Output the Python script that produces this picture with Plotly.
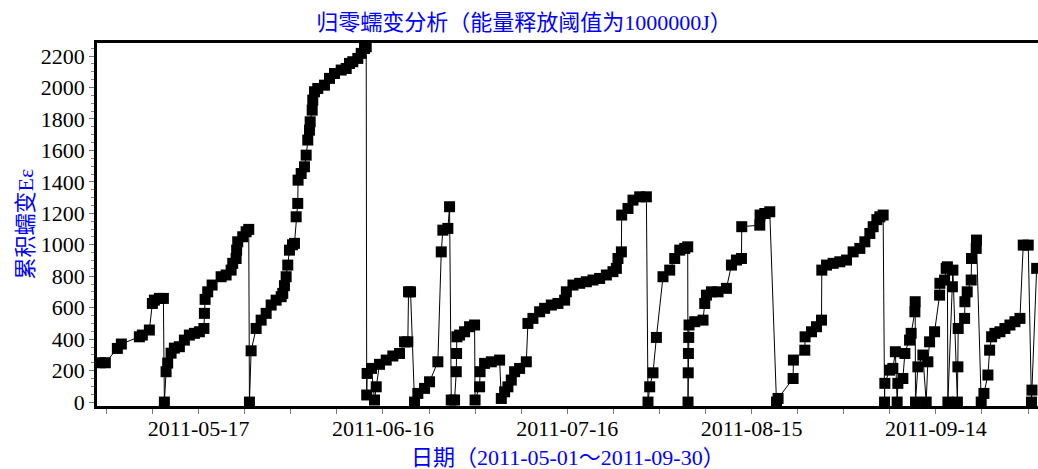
import plotly.graph_objects as go

# Observation timestamps
dates = [
    "2011-05-01 00:00", "2011-05-01 19:12", "2011-05-03 18:10", "2011-05-04 09:49", "2011-05-07 08:11",
    "2011-05-07 19:54", "2011-05-08 23:17", "2011-05-09 11:00", "2011-05-09 18:49", "2011-05-10 14:21",
    "2011-05-11 06:00", "2011-05-11 09:55", "2011-05-11 16:34", "2011-05-11 22:48", "2011-05-12 12:06",
    "2011-05-13 01:00", "2011-05-13 20:32", "2011-05-14 16:06", "2011-05-15 11:38", "2011-05-16 07:12",
    "2011-05-17 02:44", "2011-05-17 20:20", "2011-05-17 22:16", "2011-05-18 01:00", "2011-05-18 11:11",
    "2011-05-19 04:23", "2011-05-20 15:34", "2011-05-21 11:07", "2011-05-22 06:40", "2011-05-22 12:55",
    "2011-05-23 02:12", "2011-05-23 04:10", "2011-05-23 08:28", "2011-05-24 04:00", "2011-05-24 17:18",
    "2011-05-25 03:29", "2011-05-25 06:13", "2011-05-25 12:50", "2011-05-26 08:24", "2011-05-27 03:56",
    "2011-05-27 23:30", "2011-05-28 19:02", "2011-05-29 14:35", "2011-05-30 10:08", "2011-05-30 16:23",
    "2011-05-30 23:02", "2011-05-31 05:41", "2011-05-31 11:56", "2011-05-31 18:35", "2011-06-01 06:19",
    "2011-06-01 14:08", "2011-06-01 20:46", "2011-06-02 03:01", "2011-06-02 04:12", "2011-06-02 16:19",
    "2011-06-03 05:13", "2011-06-03 11:51", "2011-06-03 18:07", "2011-06-04 00:46", "2011-06-04 03:30",
    "2011-06-04 11:20", "2011-06-04 13:39", "2011-06-04 20:18", "2011-06-05 09:13", "2011-06-06 11:24",
    "2011-06-07 06:58", "2011-06-08 02:30", "2011-06-09 04:42", "2011-06-10 00:14", "2011-06-10 13:09",
    "2011-06-11 02:02", "2011-06-11 21:36", "2011-06-12 10:52", "2011-06-12 23:47", "2011-06-13 06:26",
    "2011-06-13 08:23", "2011-06-13 09:56", "2011-06-14 03:09", "2011-06-14 14:53", "2011-06-14 21:32",
    "2011-06-15 10:25", "2011-06-16 12:37", "2011-06-17 14:25", "2011-06-18 16:36", "2011-06-19 12:09",
    "2011-06-20 01:03", "2011-06-20 03:48", "2011-06-20 11:37", "2011-06-21 03:14", "2011-06-21 16:09",
    "2011-06-22 18:20", "2011-06-23 13:54", "2011-06-24 22:21", "2011-06-25 11:38", "2011-06-25 17:53",
    "2011-06-26 13:26", "2011-06-26 20:05", "2011-06-27 02:43", "2011-06-27 15:37", "2011-06-27 22:16",
    "2011-06-27 23:27", "2011-06-28 00:37", "2011-06-28 11:10", "2011-06-29 06:43", "2011-06-30 02:15",
    "2011-06-30 21:49", "2011-06-30 23:46", "2011-07-01 17:21", "2011-07-01 19:19", "2011-07-02 12:55",
    "2011-07-03 15:07", "2011-07-04 23:33", "2011-07-05 06:12", "2011-07-05 19:06", "2011-07-06 08:00",
    "2011-07-06 21:17", "2011-07-07 10:11", "2011-07-08 05:44", "2011-07-09 07:55", "2011-07-09 14:11",
    "2011-07-10 09:43", "2011-07-11 11:55", "2011-07-12 07:28", "2011-07-13 09:40", "2011-07-14 11:28",
    "2011-07-15 13:39", "2011-07-15 20:18", "2011-07-16 22:06", "2011-07-18 00:17", "2011-07-19 02:30",
    "2011-07-20 04:18", "2011-07-21 06:29", "2011-07-22 08:41", "2011-07-23 10:28", "2011-07-23 23:46",
    "2011-07-24 06:01", "2011-07-24 19:19", "2011-07-24 20:30", "2011-07-25 21:07", "2011-07-26 16:39",
    "2011-07-27 18:52", "2011-07-28 21:03", "2011-07-29 03:19", "2011-07-29 09:58", "2011-07-29 22:51",
    "2011-07-30 12:09", "2011-07-31 13:57", "2011-08-01 16:09", "2011-08-02 11:41", "2011-08-03 07:15",
    "2011-08-04 02:47", "2011-08-04 14:31", "2011-08-04 15:42", "2011-08-04 16:29", "2011-08-04 17:15",
    "2011-08-04 18:26", "2011-08-04 19:36", "2011-08-05 17:53", "2011-08-07 02:20", "2011-08-07 08:59",
    "2011-08-07 15:36", "2011-08-08 11:10", "2011-08-09 12:58", "2011-08-10 21:48", "2011-08-11 17:21",
    "2011-08-12 12:53", "2011-08-13 08:27", "2011-08-13 09:37", "2011-08-16 08:00", "2011-08-16 09:10",
    "2011-08-17 03:32", "2011-08-17 23:04", "2011-08-19 01:16", "2011-08-19 07:32", "2011-08-21 18:10",
    "2011-08-21 19:21", "2011-08-23 15:55", "2011-08-23 17:05", "2011-08-24 18:06", "2011-08-25 13:38",
    "2011-08-26 09:12", "2011-08-26 10:22", "2011-08-27 04:44", "2011-08-28 06:32", "2011-08-29 08:44",
    "2011-08-30 10:55", "2011-08-31 12:43", "2011-09-01 14:56", "2011-09-02 10:29", "2011-09-03 06:01",
    "2011-09-03 18:56", "2011-09-04 09:24", "2011-09-04 21:07", "2011-09-05 10:02", "2011-09-05 15:30",
    "2011-09-05 16:41", "2011-09-06 11:02", "2011-09-06 23:57", "2011-09-07 09:43", "2011-09-07 16:45",
    "2011-09-07 19:29", "2011-09-08 15:03", "2011-09-08 22:52", "2011-09-09 17:14", "2011-09-09 23:30",
    "2011-09-10 13:57", "2011-09-10 15:07", "2011-09-10 16:18", "2011-09-11 01:41", "2011-09-11 21:13",
    "2011-09-12 10:08", "2011-09-12 16:47", "2011-09-12 23:25", "2011-09-13 18:58", "2011-09-14 14:31",
    "2011-09-14 15:42", "2011-09-15 10:03", "2011-09-15 16:19", "2011-09-15 21:00", "2011-09-15 22:58",
    "2011-09-16 16:34", "2011-09-16 18:30", "2011-09-17 12:06", "2011-09-17 14:04", "2011-09-17 15:14",
    "2011-09-18 16:15", "2011-09-18 17:25", "2011-09-19 02:24", "2011-09-19 18:03", "2011-09-19 19:13",
    "2011-09-20 13:36", "2011-09-20 14:46", "2011-09-21 09:09", "2011-09-21 19:42", "2011-09-22 11:21",
    "2011-09-22 18:00", "2011-09-23 01:48", "2011-09-23 14:43", "2011-09-24 10:15", "2011-09-25 05:48",
    "2011-09-26 01:21", "2011-09-26 20:54", "2011-09-27 16:26", "2011-09-28 05:21", "2011-09-29 00:53",
    "2011-09-29 13:25", "2011-09-29 15:22", "2011-09-30 09:45",
]

# Cumulative creep Eε after zero-resetting
creep = [
    250, 250, 341, 369, 415,
    426, 458, 627, 648, 659,
    659, 0, 193, 248, 311,
    343, 352, 394, 426, 437,
    447, 468, 564, 653, 701,
    744, 797, 808, 839, 882,
    913, 966, 1019, 1051, 1083,
    1098, 0, 326, 468, 521,
    564, 617, 648, 670, 691,
    740, 797, 871, 966, 1000,
    1009, 1178, 1263, 1411, 1453,
    1496, 1570, 1666, 1729, 1782,
    1856, 1920, 1973, 1994, 2015,
    2058, 2089, 2111, 2121, 2153,
    2164, 2185, 2217, 2248, 2259,
    45, 182, 214, 13, 97,
    240, 267, 293, 309, 383,
    383, 701, 701, 0, 55,
    87, 129, 256, 955, 1093,
    1104, 1242, 13, 13, 193,
    309, 415, 426, 447, 479,
    490, 13, 97, 193, 246,
    256, 267, 23, 65, 97,
    140, 193, 214, 256, 500,
    532, 574, 596, 617, 627,
    648, 701, 744, 755, 765,
    776, 786, 808, 829, 850,
    913, 955, 1189, 1231, 1284,
    1305, 1305, 0, 97, 186,
    411, 797, 839, 913, 966,
    977, 987, 0, 186, 309,
    411, 490, 511, 521, 627,
    680, 701, 701, 723, 871,
    903, 913, 1115, 1125, 1189,
    1199, 1210, 0, 23, 150,
    267, 330, 415, 447, 479,
    521, 839, 871, 882, 892,
    903, 955, 977, 1019, 1072,
    1115, 1160, 1178, 1189, 0,
    119, 203, 214, 320, 0,
    119, 150, 309, 394, 437,
    574, 638, 0, 224, 299,
    0, 256, 383, 447, 680,
    755, 776, 850, 860, 0,
    733, 839, 0, 224, 468,
    532, 638, 701, 776, 913,
    977, 1030, 0, 55, 172,
    330, 415, 437, 447, 468,
    490, 511, 532, 998, 998,
    0, 76, 850,
]

title_text = "归零蠕变分析（能量释放阈值为1000000J）"
x_title = "日期（2011-05-01～2011-09-30）"
y_title = "累积蠕变Eε"

BLUE = "#0000ff"
FONT = "Liberation Serif, Noto Sans CJK SC, serif"
DAY_MS = 86400000

fig = go.Figure(
    go.Scatter(
        x=dates,
        y=creep,
        mode="lines+markers",
        line=dict(color="black", width=1),
        marker=dict(symbol="square", size=11, color="black", line=dict(width=0)),
        showlegend=False,
    )
)

fig.update_layout(
    width=1038,
    height=469,
    margin=dict(l=97, r=0, t=43, b=63),
    paper_bgcolor="white",
    plot_bgcolor="white",
    font=dict(family=FONT, size=22, color="black"),
    title=dict(
        text=title_text,
        x=524 / 1038,
        xref="container",
        xanchor="center",
        y=1 - 22 / 469,
        yref="container",
        yanchor="middle",
        font=dict(family=FONT, size=22, color=BLUE),
    ),
    xaxis=dict(
        type="date",
        range=["2011-04-30 10:40", "2011-09-30 15:00"],
        tick0="2011-05-17",
        dtick=30 * DAY_MS,
        tickformat="%Y-%m-%d",
        ticks="outside",
        ticklen=5,
        tickwidth=1,
        tickcolor="#777777",
        ticklabelstandoff=-4,
        minor=dict(dtick=7.5 * DAY_MS, tick0="2011-05-17", ticks="outside",
                   ticklen=5, tickcolor="#777777"),
        showline=True,
        linecolor="black",
        linewidth=2.5,
        mirror=True,
        showgrid=False,
        zeroline=False,
        tickfont=dict(family=FONT, size=22, color="black"),
    ),
    yaxis=dict(
        range=[-25, 2283],
        tick0=0,
        dtick=200,
        ticks="outside",
        ticklen=5,
        tickwidth=1,
        tickcolor="#777777",
        minor=dict(dtick=50, ticks="outside", ticklen=3, tickcolor="#888888"),
        showline=True,
        linecolor="black",
        linewidth=2.5,
        mirror=False,
        showgrid=False,
        zeroline=False,
        tickfont=dict(family=FONT, size=22, color="black"),
    ),
    annotations=[
        dict(text=x_title, xref="paper", yref="paper", x=0.5, y=-51 / 363,
             xanchor="center", yanchor="middle", showarrow=False,
             font=dict(family=FONT, size=22, color=BLUE)),
        dict(text=y_title, xref="paper", yref="paper", x=(25 - 97) / 941, y=0.5,
             xanchor="center", yanchor="middle", textangle=-90, showarrow=False,
             font=dict(family=FONT, size=22, color=BLUE)),
    ],
)

fig.write_html("out.html")
